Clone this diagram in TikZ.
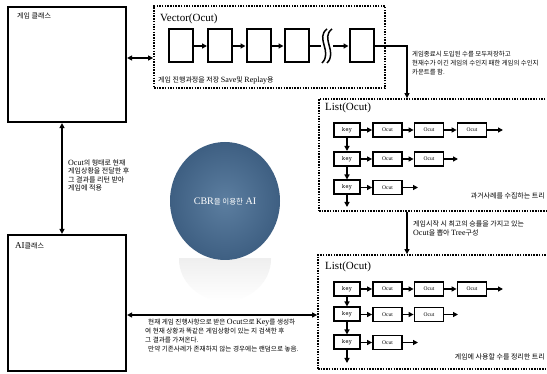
\documentclass[tikz,border=0pt]{standalone}
\usepackage{fontspec}
\setmainfont{Liberation Serif}
\newfontfamily\kr{Noto Sans CJK KR}
\usetikzlibrary{arrows.meta,shapes.geometric}
\newcommand{\lat}[1]{{\rmfamily\fontsize{8}{8.6}\selectfont #1}}
\begin{document}
\begin{tikzpicture}[x=1pt,y=-1pt,
 solidbox/.style={draw, line width=2.2pt, inner sep=0pt},
 dotbox/.style={draw, line width=1.8pt, dash pattern=on 1.5pt off 1.2pt, inner sep=0pt},
 sq/.style={draw, line width=2pt, minimum width=24pt, minimum height=33pt, inner sep=0pt},
 keybox/.style={draw, line width=2pt, minimum width=26pt, minimum height=14pt, inner sep=0pt, font=\ttfamily\fontsize{6.5}{7}\selectfont},
 ocbox/.style={draw, line width=1.8pt, minimum width=29pt, minimum height=14pt, inner sep=0pt, font=\fontsize{5.5}{6}\selectfont},
 tip/.tip={Triangle[length=5pt,width=5pt]},
 arr/.style={line width=1.6pt, -tip},
 darr/.style={line width=1.6pt, tip-tip},
 small/.style={font=\kr\fontsize{7}{8.6}\selectfont, align=left, inner sep=0pt},
 lbl/.style={font=\fontsize{11}{12}\selectfont, inner sep=0pt, anchor=base west}
]
\clip (0,0) rectangle (547,374);
\useasboundingbox (0,0) rectangle (547,374);
\fill[white] (0,0) rectangle (547,374);

% class boxes
\node[solidbox, minimum width=118pt, minimum height=115pt] (game) at (67,64.5) {};
\node[solidbox, minimum width=118pt, minimum height=136pt] (ai) at (67,303) {};
\node[small, anchor=base west] (gametxt) at (17,19) {게임 클래스};
\node[inner sep=0pt, anchor=base west] (aitxt) at (15,249) {\fontsize{9}{9}\selectfont AI{\kr\fontsize{7}{8}\selectfont 클래스}};

% vector container
\node[dotbox, minimum width=231pt, minimum height=82pt] (vec) at (269.5,47) {};
\node[lbl] (vlbl) at (160,22) {Vector(Ocut)};
\node[sq] (s1) at (180.5,46) {};
\node[sq] (s2) at (220,46) {};
\node[sq] (s3) at (258.5,46) {};
\node[sq] (s4) at (296.5,46) {};
\node[sq] (s5) at (361.5,46) {};
\draw[arr] (s1) -- (s2);
\draw[arr] (s2) -- (s3);
\draw[arr] (s3) -- (s4);
\coordinate (brkA) at (321,46);
\coordinate (brkB) at (333,46);
\draw[line width=1.6pt] (s4.east) -- (brkA);
\draw[line width=1.5pt] (327,29) .. controls (315,38) and (333,52) .. (322,63);
\draw[line width=1.5pt] (332,29) .. controls (320,38) and (338,52) .. (327,63);
\draw[arr] (brkB) -- (s5);
\node[small, anchor=base west] (vtxt) at (158,83) {게임 진행과정을 저장 \lat{Save}및 \lat{Replay}용};

% text right top
\node[small, anchor=north west, font=\kr\fontsize{6.4}{8.8}\selectfont] (rt) at (412,51) {게임종료시 도입된 수를 모두저장하고\\현재수가 이긴 게임의 수인지 패한 게임의 수인지\\카운트를 함.};

% list 1
\node[dotbox, minimum width=230pt, minimum height=112pt] (l1) at (434,155) {};
\node[lbl] (l1lbl) at (325,111) {List(Ocut)};
\node[keybox] (k11) at (347,130) {key};
\node[keybox] (k12) at (347,159) {key};
\node[keybox] (k13) at (347,187.5) {key};
\node[ocbox] (o111) at (387.5,130) {Ocut};
\node[ocbox] (o112) at (429,130) {Ocut};
\node[ocbox] (o113) at (472,130) {Ocut};
\node[ocbox] (o121) at (387.5,159) {Ocut};
\node[ocbox] (o122) at (429,159) {Ocut};
\node[ocbox] (o131) at (387.5,187.5) {Ocut};
\coordinate (e11) at (503,130);
\coordinate (e12) at (458,159);
\coordinate (e13) at (418,187.5);
\coordinate (d1) at (347,207);
\draw[arr] (k11) -- (o111);
\draw[arr] (o111) -- (o112);
\draw[arr] (o112) -- (o113);
\draw[arr] (o113) -- (e11);
\draw[arr] (k12) -- (o121);
\draw[arr] (o121) -- (o122);
\draw[arr] (o122) -- (e12);
\draw[arr] (k13) -- (o131);
\draw[arr] (o131) -- (e13);
\draw[arr] (k11) -- (k12);
\draw[arr] (k12) -- (k13);
\draw[arr] (k13) -- (d1);
\node[small, anchor=base east] (l1txt) at (545,199) {과거사례를 수집하는 트리};

% list 2
\node[dotbox, minimum width=231pt, minimum height=114pt] (l2) at (433.5,312) {};
\node[lbl] (l2lbl) at (325,270) {List(Ocut)};
\node[keybox] (k21) at (347,289) {key};
\node[keybox] (k22) at (347,314.5) {key};
\node[keybox] (k23) at (347,342.5) {key};
\node[ocbox] (o211) at (387.5,289) {Ocut};
\node[ocbox] (o212) at (429,289) {Ocut};
\node[ocbox] (o213) at (472,289) {Ocut};
\node[ocbox] (o221) at (387.5,314.5) {Ocut};
\node[ocbox] (o222) at (429,314.5) {Ocut};
\node[ocbox] (o231) at (387.5,342.5) {Ocut};
\coordinate (e21) at (503,289);
\coordinate (e22) at (458,314.5);
\coordinate (e23) at (418,342.5);
\coordinate (d2) at (347,363);
\draw[arr] (k21) -- (o211);
\draw[arr] (o211) -- (o212);
\draw[arr] (o212) -- (o213);
\draw[arr] (o213) -- (e21);
\draw[arr] (k22) -- (o221);
\draw[arr] (o221) -- (o222);
\draw[arr] (o222) -- (e22);
\draw[arr] (k23) -- (o231);
\draw[arr] (o231) -- (e23);
\draw[arr] (k21) -- (k22);
\draw[arr] (k22) -- (k23);
\draw[arr] (k23) -- (d2);
\node[small, anchor=base east] (l2txt) at (545,360) {게임에 사용할 수를 정리한 트리};

% connectors
\draw[arr] (s5.east) -| ([xshift=-27pt]l1.north);
\draw[arr] ([xshift=-27pt]l1.south) -- ([xshift=-26.5pt]l2.north);
\node[small, anchor=north west] (midtxt) at (413,221) {게임시작 시 최고의 승률을 가지고 있는\\\lat{Ocut}을 뽑아 \lat{Tree}구성};
\draw[darr] ([yshift=6.5pt]game.east) -- ([yshift=-11pt]vec.west);
\draw[darr] ([xshift=-5pt]game.south) -- ([xshift=-5pt]ai.north);
\draw[darr] ([yshift=-12pt]ai.east) -- ([yshift=-3pt]l2.west);
\node[small, anchor=north west] (lefttxt) at (68,159) {\lat{Ocut}의 형태로 현재\\게임상황을 전달한 후\\그 결과를 리턴 받아\\게임에 적용};
\node[small, anchor=north west, font=\kr\fontsize{6.6}{8.8}\selectfont] (bottxt) at (145,319) {\hspace*{3pt}현재 게임 진행사항으로 받은 \lat{Ocut}으로 \lat{Key}를 생성하\\여 현재 상황과 똑같은 게임상황이 있는 지 검색한 후\\그 결과를 가져온다.\\\hspace*{3pt}만약 기존사례가 존재하지 않는 경우에는 랜덤으로 놓음.};

% CBR ellipse with reflection
\begin{scope}
\clip (160,259) rectangle (290,305);
\shade[top color=gray!25, bottom color=white] (225,259) ellipse (46pt and 42pt);
\end{scope}
\node[ellipse, minimum width=110pt, minimum height=118pt, inner sep=0pt, inner color={rgb,255:red,92;green,126;blue,160}, outer color={rgb,255:red,62;green,95;blue,130}, text=white, font=\fontsize{10}{11}\selectfont] (cbr) at (225,201) {CBR{\kr\fontsize{7.5}{8}\selectfont 을 이용한} AI};
\end{tikzpicture}
\end{document}
